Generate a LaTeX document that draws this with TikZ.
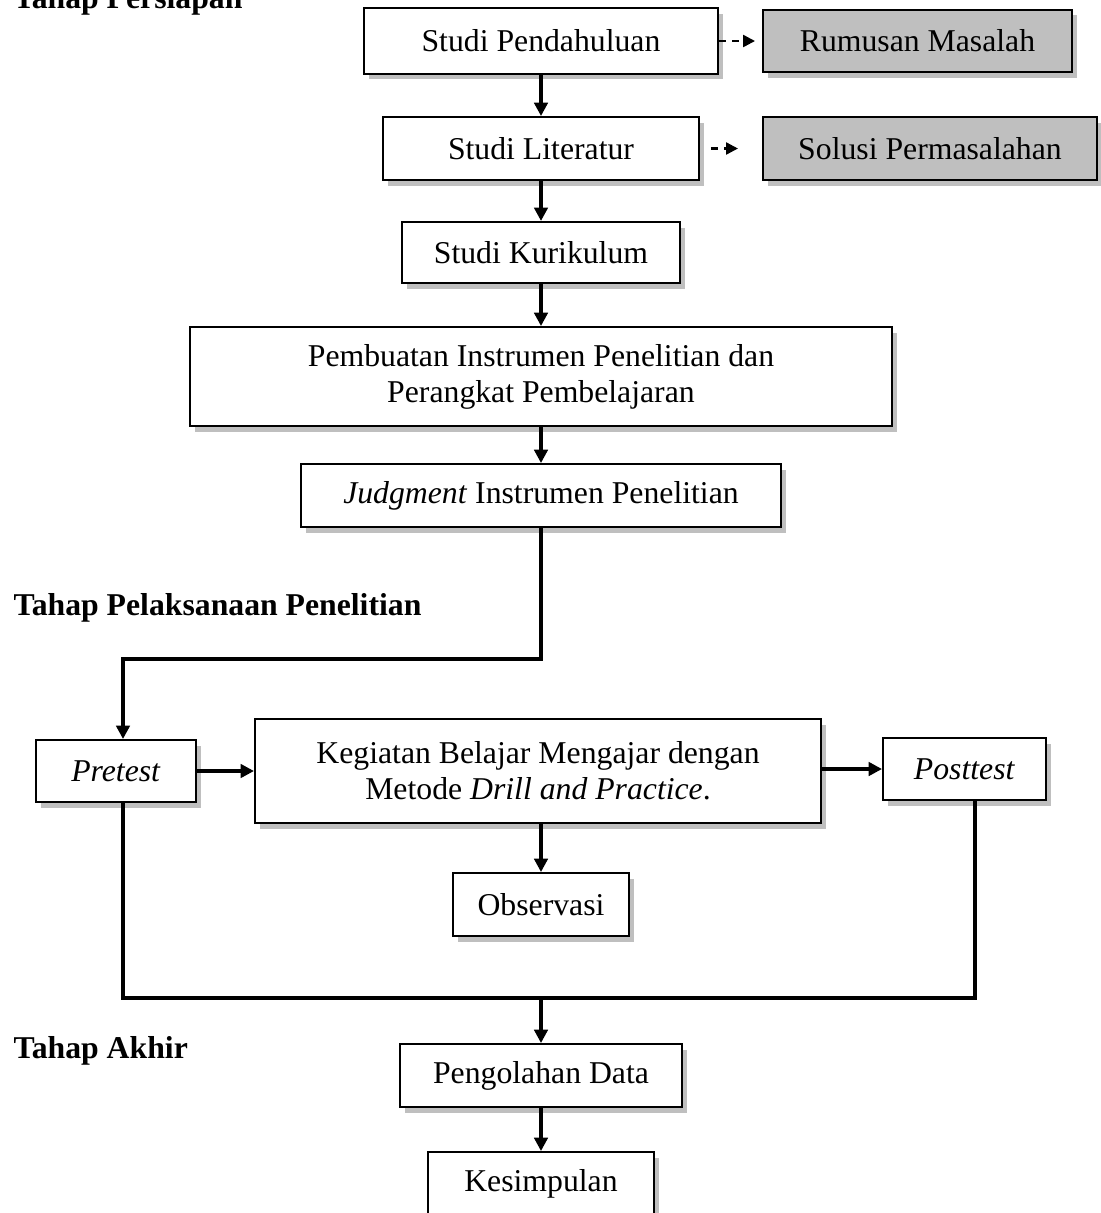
\documentclass[tikz,border=0pt]{standalone}
\usepackage{fontspec}
\setmainfont{Liberation Serif}
\usetikzlibrary{arrows.meta,shadows}

\begin{document}
\begin{tikzpicture}[x=0.375pt, y=-0.375pt,
    box/.style={rectangle, draw=black, line width=0.75pt, fill=white, align=center,
                inner sep=0pt, font=\fontsize{11.9pt}{13.5pt}\selectfont,
                drop shadow={shadow xshift=1.9pt, shadow yshift=-2.2pt, fill=black!25, opacity=1}},
    result/.style={box, fill=black!25},
    stage/.style={anchor=base west, inner sep=0pt, font=\fontsize{11.9pt}{13.5pt}\selectfont\bfseries},
    arrow/.style={-{Triangle[length=5pt, width=5pt]}, line width=1.3pt},
    link/.style={line width=1.3pt},
    dasharrow/.style={-{Triangle[length=4.5pt, width=4.5pt]}, line width=0.9pt, dash pattern=on 2.5pt off 2.5pt}
]
    \useasboundingbox (0,0) rectangle (1101,1213);

    % Tahap Persiapan
    \node[stage] (persiapan) at (13,8) {Tahap Persiapan};
    \node[box, minimum width=132.75pt, minimum height=24.4pt] (pendahuluan) at (541,41) {Studi Pendahuluan};
    \node[result, minimum width=115.9pt, minimum height=23.6pt] (rumusan) at (917.5,41) {Rumusan Masalah};
    \node[box, minimum width=118.5pt, minimum height=23.6pt] (literatur) at (541,148.5) {Studi Literatur};
    \node[result, minimum width=125.25pt, minimum height=23.6pt] (solusi) at (930,148.5) {Solusi Permasalahan};
    \node[box, minimum width=104.25pt, minimum height=22.9pt] (kurikulum) at (541,252.5) {Studi Kurikulum};
    \node[box, minimum width=263.25pt, minimum height=37.1pt] (pembuatan) at (541,376.5)
        {Pembuatan Instrumen Penelitian dan\\Perangkat Pembelajaran};
    \node[box, minimum width=180pt, minimum height=23.6pt] (judgment) at (541,495.5)
        {\textit{Judgment} Instrumen Penelitian};

    \draw[dasharrow, shorten >=2.6pt] (pendahuluan) -- (rumusan);
    \draw[dasharrow, shorten <=4.1pt, shorten >=9pt] (literatur) -- (solusi);
    \draw[arrow] (pendahuluan) -- (literatur);
    \draw[arrow] (literatur) -- (kurikulum);
    \draw[arrow] (kurikulum) -- (pembuatan);
    \draw[arrow] (pembuatan) -- (judgment);

    % Tahap Pelaksanaan Penelitian
    \node[stage] (pelaksanaan) at (13,615) {Tahap Pelaksanaan Penelitian};
    \coordinate (split) at (123,659);
    \node[box, minimum width=60pt, minimum height=23.25pt] (pretest) at (116,771) {\textit{Pretest}};
    \node[box, minimum width=212.25pt, minimum height=39pt] (kegiatan) at (538,771)
        {Kegiatan Belajar Mengajar dengan\\Metode \textit{Drill and Practice}.};
    \node[box, minimum width=61.1pt, minimum height=23.25pt] (posttest) at (964.5,769) {\textit{Posttest}};
    \node[box, minimum width=66pt, minimum height=23.6pt] (observasi) at (541,904.5) {Observasi};

    \draw[arrow] (judgment.south) |- (split) -- (split |- pretest.north);
    \draw[arrow] (pretest) -- (pretest -| kegiatan.west);
    \draw[arrow] (kegiatan.east |- posttest) -- (posttest);
    \draw[arrow] (kegiatan.south -| observasi) -- (observasi);

    % Tahap Akhir
    \node[stage] (akhir) at (13,1058) {Tahap Akhir};
    \coordinate (merge) at (541,998);
    \coordinate (rdrop) at (975,998);
    \node[box, minimum width=105.75pt, minimum height=23.6pt] (pengolahan) at (541,1075.5) {Pengolahan Data};
    \node[box, minimum width=84.75pt, minimum height=23.6pt] (kesimpulan) at (541,1183.5) {Kesimpulan};

    \draw[link] (split |- pretest.south) -- (split |- merge) -- (rdrop) -- (rdrop |- posttest.south);
    \draw[arrow] (merge) -- (pengolahan);
    \draw[arrow] (pengolahan) -- (kesimpulan);
\end{tikzpicture}
\end{document}
